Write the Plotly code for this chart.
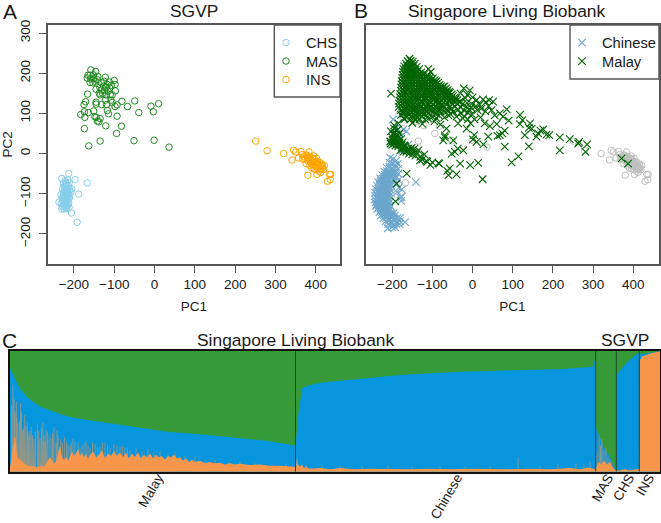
import plotly.graph_objects as go

# PC1/PC2
chs_pts = [
    (-213,-50),(-197,-65),(-167,-73),(-230,-62),(-222,-68),(-215,-66),(-226,-75),(-219,-75),(-212,-73),
    (-205,-88),(-224,-82),(-218,-82),(-213,-82),(-228,-88),(-222,-90),(-216,-90),(-210,-90),(-232,-102),
    (-226,-96),(-220,-97),(-214,-97),(-208,-97),(-188,-101),(-226,-104),(-220,-104),(-214,-104),(-229,-110),
    (-223,-110),(-217,-110),(-211,-110),(-237,-121),(-228,-118),(-222,-117),(-216,-117),(-231,-125),
    (-225,-124),(-219,-124),(-213,-122),(-229,-132),(-223,-131),(-217,-130),(-230,-138),(-224,-138),
    (-218,-137),(-206,-148),(-192,-171),(-221,-72),(-218,-86),(-224,-100),(-219,-113),(-221,-127),
    (-220,-78),(-216,-94),(-222,-93),(-218,-101),(-212,-101),(-224,-107),(-218,-107),(-226,-113),(-214,-113),
    (-220,-120),(-226,-128),(-214,-127),(-220,-134),(-212,-135),
]
mas_pts = [
    (-158,208),(-146,204),(-165,195),(-160,195),(-152,196),(-141,192),(-167,188),(-158,186),(-150,186),
    (-142,184),(-160,177),(-153,176),(-148,180),(-122,190),(-100,182),(-112,178),(-125,180),(-132,176),
    (-98,172),(-117,172),(-107,170),(-126,168),(-136,165),(-120,165),(-111,163),(-145,160),(-132,158),
    (-97,156),(-124,157),(-115,155),(-137,150),(-129,150),(-110,146),(-105,146),(-120,146),(-135,146),
    (-166,148),(-171,129),(-175,122),(-174,104),(-183,97),(-173,90),(-164,102),(-151,106),(-148,92),
    (-145,90),(-142,81),(-138,79),(-135,87),(-174,62),(-121,69),(-82,68),(-94,50),(-163,19),(-135,31),
    (-51,32),(-1,33),(36,16),(-93,93),(-114,99),(-117,107),(-98,117),(-93,121),(-81,130),(-67,117),
    (-49,131),(-39,102),(-9,118),(-3,104),(10,124),(-145,128),(-145,123),(-131,122),(-122,133),(-119,122),
    (-108,133),(-105,127),
]
ins_pts = [
    (251,31),(279,7),(320,0),(341,-16),(345,8),(350,4),(357,-11),(363,5),(366,-3),(370,-8),(373,-14),
    (376,-25),(380,-18),(383,4),(385,-8),(387,-14),(390,-20),(392,-28),(395,-6),(396,-16),(398,-24),
    (400,-32),(402,-12),(404,-20),(405,-28),(407,-36),(409,-22),(411,-30),(413,-38),(415,-26),(417,-33),
    (419,-40),(421,-30),(385,-30),(390,-36),(396,-38),(380,-54),(403,-52),(412,-47),(434,-52),(437,-52),
    (429,-69),(436,-65),(378,-4),(392,-12),(368,-14),(401,-40),(408,-44),(382,-12),(388,-24),(394,-12),
    (399,-20),(403,-26),(393,-22),(398,-30),(406,-32),(410,-38),(416,-38),(386,-20),(379,-9),(376,-4),
]

# Singapore Living Biobank
chinese_pts = [
    (-198,85),(-190,63),(-172,60),(-165,55),(-195,48),(-182,40),(-172,18),(-168,17),(-160,22),(-175,8),
    (-144,3),(-141,-71),(-168,-171),(-177,-108),(-205,-10),(-198,-14),(-190,-18),(-207,-22),(-200,-24),
    (-193,-28),(-186,-26),(-214,-35),(-207,-33),(-200,-36),(-192,-37),(-185,-38),(-220,-45),(-213,-44),
    (-206,-46),(-199,-44),(-192,-47),(-185,-50),(-225,-54),(-218,-53),(-211,-55),(-204,-53),(-197,-56),
    (-190,-57),(-230,-62),(-223,-63),(-216,-61),(-209,-64),(-202,-62),(-195,-65),(-184,-66),(-235,-71),
    (-228,-70),(-221,-72),(-214,-70),(-207,-73),(-200,-71),(-190,-75),(-238,-80),(-231,-79),(-224,-81),
    (-217,-79),(-210,-82),(-203,-80),(-184,-85),(-240,-89),(-233,-88),(-226,-90),(-219,-88),(-212,-91),
    (-205,-89),(-176,-90),(-242,-98),(-235,-97),(-228,-99),(-221,-97),(-214,-100),(-207,-98),(-188,-96),
    (-243,-106),(-236,-105),(-229,-107),(-222,-105),(-215,-108),(-208,-106),(-180,-110),(-243,-114),
    (-236,-113),(-229,-115),(-222,-113),(-215,-116),(-208,-114),(-178,-118),(-242,-122),(-235,-121),
    (-228,-123),(-221,-121),(-214,-124),(-207,-122),(-240,-130),(-233,-129),(-226,-131),(-219,-129),
    (-212,-132),(-205,-130),(-237,-138),(-230,-137),(-223,-139),(-216,-137),(-209,-140),(-232,-146),
    (-225,-145),(-218,-147),(-211,-145),(-204,-148),(-228,-154),(-221,-153),(-214,-155),(-207,-153),
    (-200,-156),(-193,-154),(-222,-161),(-215,-160),(-208,-162),(-201,-160),(-194,-163),(-187,-161),
    (-180,-160),(-216,-168),(-209,-167),(-202,-169),(-195,-167),(-188,-170),(-181,-168),(-210,-176),
    (-203,-175),(-196,-177),(-189,-175),(-182,-176),(-211,-186),(-200,-183),(-193,-184),
    (-227,-76),(-220,-84),(-213,-76),(-232,-93),(-224,-94),(-216,-94),(-209,-94),(-239,-110),(-232,-110),
    (-225,-110),(-218,-111),(-211,-110),(-238,-126),(-231,-126),(-224,-126),(-217,-126),(-210,-127),
    (-234,-134),(-227,-134),(-220,-134),(-213,-136),(-228,-142),(-221,-142),(-214,-142),(-207,-143),
    (-224,-150),(-217,-150),(-210,-150),(-203,-151),(-196,-148),(-205,-58),(-198,-50),(-212,-49),(-219,-58),
]
malay_pts = [
    (-157,236),(-162,230),(-154,231),(-149,229),(-166,224),(-158,225),(-151,223),(-144,224),
    (-170,217),(-163,218),(-155,216),(-147,218),(-139,216),(-172,210),(-165,211),(-158,209),(-150,211),
    (-142,209),(-133,210),(-110,211),(-173,203),(-167,204),(-160,202),(-152,204),(-145,202),(-137,204),
    (-128,202),(-104,203),(-174,196),(-167,197),(-160,195),(-153,197),(-145,195),(-137,197),(-129,195),
    (-121,197),(-113,195),(-175,188),(-168,189),(-161,187),(-154,189),(-146,187),(-138,189),(-130,187),
    (-122,189),(-114,187),(-106,189),(-99,187),(-176,180),(-169,181),(-161,179),(-153,181),(-145,179),
    (-137,181),(-129,179),(-121,181),(-113,179),(-105,181),(-97,179),(-90,180),(-177,172),(-170,173),
    (-162,171),(-154,173),(-146,171),(-138,173),(-130,171),(-122,173),(-114,171),(-106,173),(-98,171),
    (-90,173),(-82,171),(-178,164),(-170,165),(-162,163),(-154,165),(-146,163),(-138,165),(-130,163),
    (-122,165),(-114,163),(-106,165),(-98,163),(-90,165),(-82,163),(-74,165),(-66,162),(-178,156),
    (-170,157),(-162,155),(-154,157),(-146,155),(-138,157),(-130,155),(-122,157),(-114,155),(-106,157),
    (-98,155),(-90,157),(-82,155),(-74,157),(-66,155),(-58,154),(-180,148),(-172,149),(-164,147),
    (-156,149),(-148,147),(-140,149),(-132,147),(-124,149),(-116,147),(-108,149),(-100,147),(-92,149),
    (-84,147),(-76,149),(-68,147),(-60,149),(-52,147),(-181,140),(-173,141),(-165,139),(-157,141),
    (-149,139),(-141,141),(-133,139),(-125,141),(-117,139),(-109,141),(-101,139),(-93,141),(-85,139),
    (-77,141),(-69,139),(-61,141),(-53,139),(-44,140),(-182,132),(-174,133),(-166,131),(-158,133),
    (-148,131),(-138,133),(-128,131),(-118,133),(-108,131),(-98,133),(-88,131),(-78,133),(-68,131),
    (-58,133),(-48,131),(-38,133),(-30,130),(-183,124),(-175,125),(-165,123),(-155,125),(-145,123),
    (-133,125),(-121,123),(-111,125),(-99,123),(-87,125),(-75,123),(-63,125),(-50,123),(-38,125),
    (-25,123),(-14,126),(-2,124),(-184,116),(-176,117),(-166,115),(-154,117),(-142,115),(-130,117),
    (-116,115),(-102,117),(-88,115),(-74,117),(-58,115),(-44,117),(-30,115),(-16,117),(-4,115),
    (-178,108),(-168,109),(-156,107),(-144,109),(-132,107),(-118,109),(-104,107),(-86,109),(-60,107),
    (-36,109),(-20,107),(-8,109),(-172,100),(-160,101),(-148,99),(-136,101),(-122,99),(-108,101),
    (-90,99),(-30,100),(-12,102),(-166,92),(-152,93),(-138,91),(-126,93),(-100,91),(-20,92),
    (-155,85),(-142,83),(-118,85),(-95,80),(-150,76),(-125,74),(-80,72),
    # filling the solid part of the triangle
    (-160,214),(-152,207),(-163,200),(-149,199),(-141,199),(-133,198),(-156,192),(-142,192),(-126,192),
    (-118,191),(-110,192),(-165,184),(-150,184),(-134,184),(-126,184),(-110,184),(-102,184),(-94,183),
    (-173,176),(-158,176),(-142,176),(-126,176),(-118,176),(-102,176),(-94,176),(-86,176),(-166,168),
    (-150,168),(-134,168),(-126,168),(-110,168),(-102,168),(-86,168),(-78,168),(-70,167),(-174,160),
    (-158,160),(-142,160),(-126,160),(-110,160),(-94,160),(-78,160),(-70,159),(-62,158),(-168,152),
    (-152,152),(-136,152),(-120,152),(-104,152),(-88,152),(-72,152),(-64,152),(-56,151),(-177,144),
    (-160,144),(-145,144),(-129,144),(-113,144),(-97,144),(-81,144),(-65,144),(-49,143),(-170,136),
    (-153,136),(-133,136),(-113,136),(-93,136),(-73,136),(-53,136),(-42,135),(-170,128),(-150,128),
    (-127,128),(-105,128),(-81,128),(-56,128),(-33,128),(-160,120),(-136,120),(-110,120),(-80,120),
    (-172,112),(-161,112),(-149,111),(-137,112),(-124,111),(-110,112),(-95,111),(-80,112),(-66,111),(-52,112),
    (-174,104),(-163,104),(-151,103),(-140,104),(-128,103),(-114,104),(-98,103),(-80,104),(-68,103),(-48,104),
    (-178,96),(-158,96),(-144,95),(-130,96),(-115,95),(-84,95),(-60,95),(-170,88),(-146,88),(-132,86),(-110,87),
    (-90,88),

    # right hand tail
    (-203,149),(-22,162),(-7,157),(-13,146),(-30,150),(-18,138),(0,140),(10,133),(26,135),(51,129),(41,133),
    (33,128),(18,122),(85,110),(68,100),(76,92),(90,82),(60,73),(43,68),(80,57),(74,50),(62,44),(68,46),
    (118,96),(124,83),(118,73),(143,75),(147,62),(130,46),(140,64),(176,60),(169,57),(184,47),(191,46),
    (159,42),(163,50),(140,18),(217,40),(242,36),(265,29),(263,25),(285,23),(217,8),(281,4),(114,-7),
    (97,-22),(25,-64),(14,-23),(-6,-29),(-31,-25),(-52,0),(-44,4),(-37,12),(-23,8),(-63,-43),(-57,-37),
    (-40,-52),(-60,-54),(-83,-25),(-113,-21),(-131,-17),(-164,-50),(-192,-119),(-189,-75),(371,-12),
    (387,-25),(4,46),(1,35),(10,29),(27,23),(39,42),(80,17),(-69,40),(-73,33),(-48,33),(-36,75),(-15,62),
    (-65,62),(-69,45),(20,90),(32,105),(5,85),(-5,75),(-25,88),(55,95),(30,75),(12,108),(-2,98),(22,112),
    (8,118),(-12,85),(40,118),(47,108),(-40,92),(-55,98),(-70,90),

    # lower branch
    (-195,70),(-185,75),(-170,85),(-203,55),(-195,62),(-188,58),(-198,48),(-190,47),(-182,50),(-200,40),
    (-193,38),(-185,40),(-178,36),(-205,30),(-197,30),(-190,28),(-182,27),(-174,28),(-200,22),(-192,20),
    (-185,18),(-176,15),(-168,18),(-160,12),(-152,14),(-145,12),(-135,8),(-180,8),(-172,5),(-165,4),
    (-158,0),(-150,-2),(-142,-5),(-130,-8),(-125,-15),(-115,-18),(-100,-22),(-85,-24),(-120,-2),(-105,-28),
    (-199,34),(-191,34),(-183,33),(-204,25),(-195,25),(-186,23),(-178,22),(-170,20),(-163,8),(-155,8),
    (-147,5),(-139,2),(-174,12),(-167,11),(-194,54),(-186,45),
]

pc1_ticks = [-200, -100, 0, 100, 200, 300, 400]
pc2_ticks = [-200, -100, 0, 100, 200, 300]

# Panel C: cumulative stack tops, x runs along the samples
malay_end, chinese_end, mas_end, chs_end, ins_end = 285.5, 585.7, 606.3, 629.3, 650
blue_x = [0,2,5,10,17,23,30,40,53,63,90,123,157,190,223,257,285,285.5,288,290,292,297,310,320,353,387,420,
          453,487,520,553,583,585.5,585.7,593,600,606,606.3,613,620,629,629.3,633,640,650]
blue_top = [.86,.82,.77,.69,.62,.58,.54,.51,.47,.447,.414,.373,.33,.31,.285,.257,.218,.20,.456,.60,.69,.713,
            .737,.746,.773,.80,.815,.829,.837,.843,.85,.87,.95,.37,.22,.12,.01,.80,.87,.93,.99,.97,.975,.985,.998]
# narrow mixed orange/blue samples
spike_x = [1.5,3,4,5,6.3,7,8,9.5,10.7,11.5,12.5,13.5,14.7,16,17.3,18,19,20,21.3,22.5,24,25.5,27.3,28.7,30,31.5,33,
           34,35,36,37.3,39,41,42.5,44,46,47,48,50.7,52.5,54.7,56.5,58,60,61.3,63,65,68,70,72,74,76,78,80,82.5,85,
           87.5,90,92.5,95,97.5,100,104,107,110,112.5,115,117.5,120,126,132,138,144,150,158,165,175,185,195,205,
           218,230,245,262,276,
           287,296,312,330,352,378,402,430,455,480,508,530,548,566,574,580,
           587,589,590.5,592,594,596,598,600,602,612,620]
spike_top = [.55,.72,.60,.50,.58,.45,.40,.42,.57,.50,.35,.36,.47,.38,.41,.33,.30,.34,.37,.30,.27,.33,.40,.34,.28,
             .36,.41,.30,.25,.35,.33,.30,.28,.32,.37,.24,.34,.30,.27,.24,.29,.25,.22,.22,.24,.27,.25,.24,.20,.22,
             .24,.25,.22,.20,.24,.23,.20,.21,.24,.24,.22,.20,.23,.22,.21,.21,.20,.20,.18,.20,.17,.19,.16,.17,.15,
             .16,.13,.12,.09,.10,.08,.08,.07,.06,.06,
             .11,.06,.05,.05,.045,.05,.04,.045,.04,.05,.12,.05,.06,.07,.06,.08,
             .16,.30,.22,.27,.18,.20,.12,.10,.08,.03,.03]
orange_x = [0,1,2,3,4,5,6,7,8,9,10,11,12,13,14,15,16,17,18,19,20,22,24,26,28,30,32,34,36,38,40,42,44,46,48,50,52,
            54,56,58,60,62,64,66,68,70,72,74,76,78,80,83,86,89,92,95,98,101,104,107,110,113,116,119,122,125,128,
            131,134,137,140,143,146,149,152,155,158,161,164,167,170,173,176,179,182,185,190,195,200,205,210,215,
            220,225,230,240,250,260,270,280,285.5,286,287,288,290,292,294,296,300,310,320,330,345,360,380,400,420,
            440,460,480,500,520,540,560,570,578,585.7,588,591,594,597,600,603,606.3,610,615,620,625,629.3]
orange_top = [.03,.10,.14,.20,.27,.29,.24,.13,.10,.12,.09,.10,.08,.09,.06,.07,.05,.06,.05,.04,.05,.04,.05,.035,
              .045,.04,.05,.04,.06,.10,.12,.09,.07,.08,.14,.22,.12,.10,.12,.09,.13,.17,.13,.15,.19,.13,.16,.12,
              .15,.11,.14,.17,.12,.14,.18,.11,.15,.13,.17,.13,.16,.12,.16,.11,.15,.12,.16,.11,.14,.12,.15,.11,.14,
              .12,.13,.10,.13,.12,.14,.11,.12,.09,.11,.08,.10,.08,.09,.07,.08,.07,.075,.06,.07,.06,.065,.055,.06,
              .05,.05,.045,.04,.03,.10,.06,.04,.06,.03,.04,.025,.03,.02,.03,.02,.025,.02,.02,.025,.02,.025,.02,
              .02,.025,.02,.03,.02,.035,.02,.08,.06,.09,.06,.08,.03,.01,.01,.02,.01,.02,.02,.02]
ins_top_x = [629.3, 629.4, 630, 632, 637, 642, 650]
ins_top = [0, .86, .925, .955, .97, .983, .995]

sep_x = [malay_end, chinese_end, mas_end, chs_end]
group_tick_x = [148, 447, 598, 619, 639]
group_names = ["Malay", "Chinese", "MAS", "CHS", "INS"]

W, H = 661, 523
TXT = "#1a1a1a"
BOX = "#555555"


def px(x):
    return x / W


def py(y):
    return 1 - y / H


def xy(pts):
    return [p[0] for p in pts], [p[1] for p in pts]


def circles(pts, color, name, xa, ya, legend=None):
    x, y = xy(pts)
    return go.Scatter(x=x, y=y, mode="markers", name=name, xaxis=xa, yaxis=ya,
                      showlegend=legend is not None, legend=legend,
                      marker=dict(symbol="circle-open", size=6.5, color=color, line=dict(width=1, color=color)))


def crosses(pts, color, name, legend):
    x, y = xy(pts)
    return go.Scatter(x=x, y=y, mode="markers", name=name, xaxis="x2", yaxis="y2", legend=legend,
                      marker=dict(symbol="x-thin-open", size=7.5, color=color, line=dict(width=1.1, color=color)))


def area(x, y, color):
    return go.Scatter(x=x, y=y, mode="lines", fill="tozeroy", fillcolor=color, line=dict(width=0),
                      xaxis="x3", yaxis="y3", showlegend=False, hoverinfo="skip")


def columns(xs, tops, half=0.42):
    # one thin column per sample, walked as a single outline
    out_x, out_y = [], []
    for x, t in zip(xs, tops):
        out_x += [x - half, x - half, x + half, x + half]
        out_y += [0, t, t, 0]
    return out_x, out_y


def entry(x, y):
    # one legend per row, plotly's own row spacing is too wide for this chart
    return dict(x=px(x), y=py(y), xanchor="left", yanchor="middle", bgcolor="rgba(0,0,0,0)",
                font=dict(family="Liberation Sans", size=14.7, color=TXT))


fig = go.Figure()

# A
fig.add_trace(circles(chs_pts, "#87CEEB", "CHS", "x", "y", "legend"))
fig.add_trace(circles(mas_pts, "#228B22", "MAS", "x", "y", "legend2"))
fig.add_trace(circles(ins_pts, "#FFA500", "INS", "x", "y", "legend3"))

# B, SGVP in grey underneath
for pts in (chs_pts, mas_pts, ins_pts):
    fig.add_trace(circles(pts, "#BEBEBE", "SGVP", "x2", "y2"))
fig.add_trace(crosses(chinese_pts, "#6CA6CD", "Chinese", "legend4"))
fig.add_trace(crosses(malay_pts, "#006400", "Malay", "legend5"))

# C
fig.add_trace(area([0, ins_end], [1, 1], "#359A37"))
fig.add_trace(area(blue_x, blue_top, "#0796DE"))
spike_path_x, spike_path_y = columns(spike_x, spike_top)
fig.add_trace(area(spike_path_x, spike_path_y, "rgba(247,150,74,0.6)"))
fig.add_trace(area(orange_x, orange_top, "#F8964B"))
fig.add_trace(area(ins_top_x, ins_top, "#F8964B"))

tick_font = dict(family="Liberation Sans", size=13.5, color=TXT)
axis_common = dict(showline=True, linecolor=BOX, linewidth=1.6, mirror=True, showgrid=False, zeroline=False,
                   ticks="outside", ticklen=7, tickcolor=BOX, tickwidth=1.2, tickfont=tick_font)

fig.update_layout(
    width=W, height=H, margin=dict(l=0, r=0, t=0, b=0, pad=0, autoexpand=False),
    paper_bgcolor="white", plot_bgcolor="white", hovermode=False,
    font=dict(family="Liberation Sans", color=TXT),
    xaxis=dict(axis_common, domain=[px(47.7), px(340)], range=[-265, 460], tickvals=pc1_ticks,
               title=dict(text="PC1", font=dict(size=13.5), standoff=11), anchor="y"),
    yaxis=dict(axis_common, domain=[py(264), py(25)], range=[-275, 320], tickvals=pc2_ticks, tickangle=-90,
               ticklabelstandoff=4, title=dict(text="PC2", font=dict(size=13.5), standoff=5), anchor="x"),
    xaxis2=dict(axis_common, domain=[px(365.7), px(659)], range=[-266, 464], tickvals=pc1_ticks,
                title=dict(text="PC1", font=dict(size=13.5), standoff=11), anchor="y2"),
    yaxis2=dict(axis_common, domain=[py(264), py(25)], range=[-275, 320], ticks="", showticklabels=False,
                anchor="x2"),
    xaxis3=dict(showline=True, linecolor="#111111", linewidth=1.6, mirror=True, showgrid=False, zeroline=False,
                domain=[px(10), px(660)], range=[0, ins_end], tickvals=group_tick_x, ticktext=group_names,
                tickangle=-60, ticks="", ticklabelstandoff=-9, ticklabeloverflow="allow",
                tickfont=dict(family="Liberation Sans", size=13.5, color=TXT), anchor="y3"),
    yaxis3=dict(showline=True, linecolor="#111111", linewidth=1.6, mirror=True, showgrid=False, zeroline=False,
                domain=[py(471.7), py(351)], range=[0, 1], showticklabels=False, ticks="", anchor="x3"),
    legend=entry(266, 43), legend2=entry(266, 61.5), legend3=entry(266, 80),
    legend4=entry(562, 43), legend5=entry(562, 61.5),
)

# legend frames (only left and bottom show, the rest sits on the panel box)
for x0, x1, y1 in ((274.3, 340, 97), (570, 659, 79)):
    fig.add_shape(type="rect", xref="paper", yref="paper", x0=px(x0), x1=px(x1), y0=py(y1), y1=py(25),
                  line=dict(color=BOX, width=1.4), fillcolor="rgba(0,0,0,0)", layer="above")

for s in sep_x:
    fig.add_shape(type="line", xref="x3", yref="y3", x0=s, x1=s, y0=0, y1=1,
                  line=dict(color="#1f4a2c", width=1), layer="above")

labels = [("A", 10, 11, 21), ("B", 361, 10, 21), ("C", 9, 340, 21),
          ("SGVP", 194, 11, 17.4), ("Singapore Living Biobank", 507, 11, 17.4),
          ("Singapore Living Biobank", 296, 340, 17.4), ("SGVP", 625, 340, 17.4)]
for text, x, y, size in labels:
    fig.add_annotation(text=text, x=px(x), y=py(y), xref="paper", yref="paper", showarrow=False,
                       xanchor="center", yanchor="middle", font=dict(family="Liberation Sans", size=size, color=TXT))

# the page's default 8px body margin would push the figure out of the window
fig.write_html("out.html", config={"displayModeBar": False}, post_script="document.body.style.margin = '0';")
